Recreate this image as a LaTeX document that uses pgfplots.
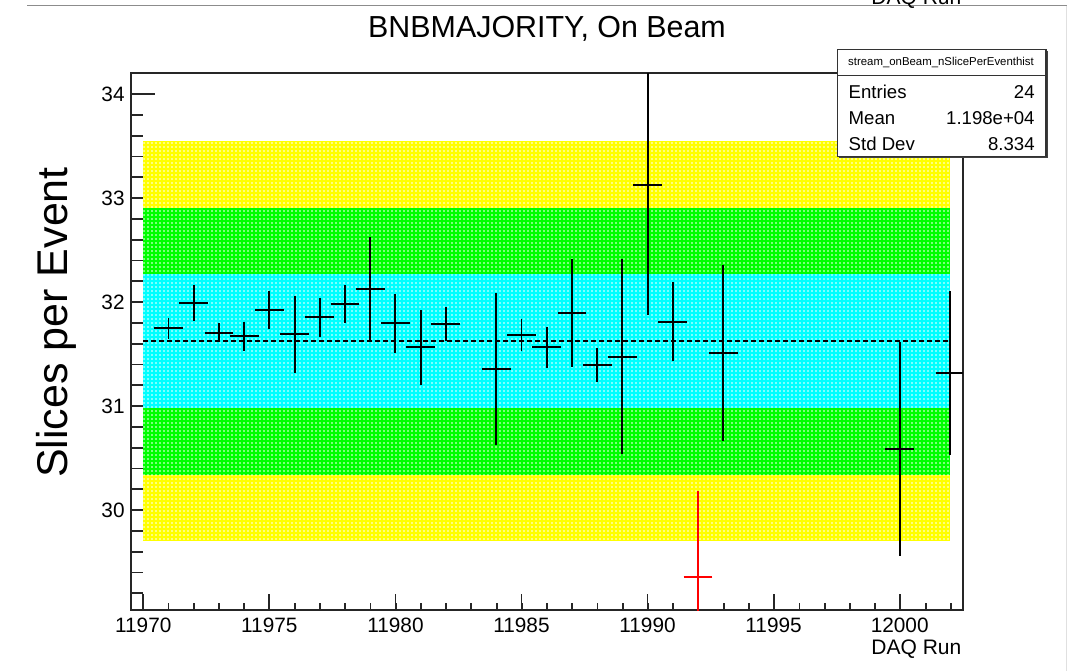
\documentclass[border=0pt]{standalone}
\usepackage{fontspec}
\setmainfont{Liberation Sans}
\usepackage{pgfplots}
\pgfplotsset{compat=1.18}
\usepackage{pgfplotstable}
\usetikzlibrary{patterns.meta}

\definecolor{rootyellow}{RGB}{255,255,0}
\definecolor{rootgreen}{RGB}{0,255,0}
\definecolor{rootcyan}{RGB}{0,255,255}

\pgfplotstableread{
x y ex ey
11971 31.748 0.5 0.085
11972 31.994 0.5 0.157
11973 31.706 0.5 0.072
11974 31.674 0.5 0.122
11975 31.924 0.5 0.168
11976 31.690 0.5 0.355
11977 31.854 0.5 0.168
11978 31.982 0.5 0.165
11979 32.123 0.5 0.482
11980 31.796 0.5 0.267
11981 31.565 0.5 0.340
11982 31.789 0.5 0.143
11984 31.357 0.5 0.710
11985 31.684 0.5 0.141
11986 31.565 0.5 0.181
11987 31.897 0.5 0.502
11988 31.395 0.5 0.144
11989 31.476 0.5 0.920
11990 33.127 0.5 1.234
11991 31.810 0.5 0.362
11993 31.513 0.5 0.830
12000 30.590 0.5 1.010
12002 31.315 0.5 0.770
}\blackpts

\pgfplotstableread{
x y ex ey
11992 29.358 0.5 0.810
}\redpts

\pgfplotsset{rootframe/.style={
  scale only axis, width=416pt, height=268.35pt,
  at={(65.35pt,-305pt)}, anchor=south west,
  xmin=11969.5, xmax=12002.5, ymin=29.04, ymax=34.2,
  axis line style={black!85, line width=1pt},
  tick align=inside,
  tick style={black!85, line width=0.9pt},
  ticklabel style={font=\fontsize{10.4}{12}\selectfont},
  scaled x ticks=false, scaled y ticks=false,
  /pgf/number format/1000 sep={},
  /pgf/number format/assume math mode=true,
}}

\begin{document}
\begin{tikzpicture}[x=0.5pt,y=-0.5pt]
\useasboundingbox (0,0) rectangle (1072,671);

% y ticks axis (drawn first, so bands cover the ticks)
\begin{axis}[rootframe,
  xtick=\empty,
  ytick={30,31,32,33,34},
  minor ytick={29.2,29.4,29.6,29.8,30.2,30.4,30.6,30.8,31.2,31.4,31.6,31.8,32.2,32.4,32.6,32.8,33.2,33.4,33.6,33.8,34.2},
  ytick pos=left,
  major tick length=12.2pt, minor tick length=6.3pt,
  yticklabel style={inner sep=0pt, xshift=-2.85pt},
]
\end{axis}

% main axis
\begin{axis}[rootframe,
  ytick=\empty,
  xtick={11970,11975,11980,11985,11990,11995,12000},
  minor xtick={11970,11971,...,12002},
  xtick pos=bottom,
  major tick length=7.8pt, minor tick length=3.7pt,
  xticklabel style={inner sep=0pt, yshift=-4pt},
  xticklabel={\pgfmathprintnumber[fixed,precision=0,1000 sep={}]{\tick}},
]
\addplot[draw=none, fill=rootyellow] coordinates {(11970,29.699) (12002,29.699) (12002,33.551) (11970,33.551)} -- cycle;
\addplot[draw=none, fill=rootgreen] coordinates {(11970,30.341) (12002,30.341) (12002,32.909) (11970,32.909)} -- cycle;
\addplot[draw=none, fill=rootcyan] coordinates {(11970,30.983) (12002,30.983) (12002,32.267) (11970,32.267)} -- cycle;
\addplot[draw=none, pattern={Dots[distance=2pt, radius=0.42pt]}, pattern color=white] coordinates {(11970,29.699) (12002,29.699) (12002,33.551) (11970,33.551)} -- cycle;

\addplot[black, line width=0.75pt, dash pattern=on 2.5pt off 1.5pt] coordinates {(11970,31.625) (12002,31.625)};

\addplot[draw=none, mark=none,
  error bars/.cd, x dir=both, x explicit, y dir=both, y explicit,
  error bar style={draw=black, solid, line width=0.95pt},
  error mark options={draw=black, line width=0.95pt, mark size=0.9pt}]
  table[x=x, y=y, x error=ex, y error=ey] {\blackpts};

\addplot[draw=none, mark=none,
  error bars/.cd, x dir=both, x explicit, y dir=both, y explicit,
  error bar style={draw=red, solid, line width=0.95pt},
  error mark options={draw=red, line width=0.95pt, mark size=0.9pt}]
  table[x=x, y=y, x error=ex, y error=ey] {\redpts};
\end{axis}

% page artefacts
\draw[black!45, line width=0.5pt] (27,5.5) -- (1066.7,5.5);
\draw[black!12, line width=0.5pt] (1066.7,5.5) -- (1066.7,671);
\node[anchor=base east, inner sep=0pt, font=\fontsize{10.5}{12}\selectfont] at (961.7,4) {DAQ Run};

% titles and labels
\node[anchor=base, inner sep=0pt, font=\fontsize{15.2}{18}\selectfont] at (547,37.3) {BNBMAJORITY, On Beam};
\node[rotate=90, anchor=base, inner sep=0pt, font=\fontsize{21.5}{25}\selectfont] at (67,322.5) {Slices per Event};
\node[anchor=base east, inner sep=0pt, font=\fontsize{10.5}{12}\selectfont] at (961.7,654.5) {DAQ Run};

% stats box
\fill[black!75] (839.2,50.8) rectangle (1047.5,158.2);
\filldraw[fill=white, draw=black!80, line width=0.75pt] (837.7,49.3) rectangle (1046,156.7);
\draw[black!80, line width=0.75pt] (837.7,75.7) -- (1046,75.7);
\node[inner sep=0pt, font=\fontsize{5.7}{7}\selectfont] at (941,62.7) {stream\_onBeam\_nSlicePerEventhist};
\node[anchor=base west, inner sep=0pt, font=\fontsize{9.3}{11}\selectfont] at (848.3,98.3) {Entries};
\node[anchor=base east, inner sep=0pt, font=\fontsize{9.3}{11}\selectfont] at (1035,98.3) {24};
\node[anchor=base west, inner sep=0pt, font=\fontsize{9.3}{11}\selectfont] at (848.3,124.5) {Mean};
\node[anchor=base east, inner sep=0pt, font=\fontsize{9.3}{11}\selectfont] at (1035,124.5) {1.198e+04};
\node[anchor=base west, inner sep=0pt, font=\fontsize{9.3}{11}\selectfont] at (848.3,150.8) {Std Dev};
\node[anchor=base east, inner sep=0pt, font=\fontsize{9.3}{11}\selectfont] at (1035,150.8) {8.334};
\end{tikzpicture}
\end{document}
